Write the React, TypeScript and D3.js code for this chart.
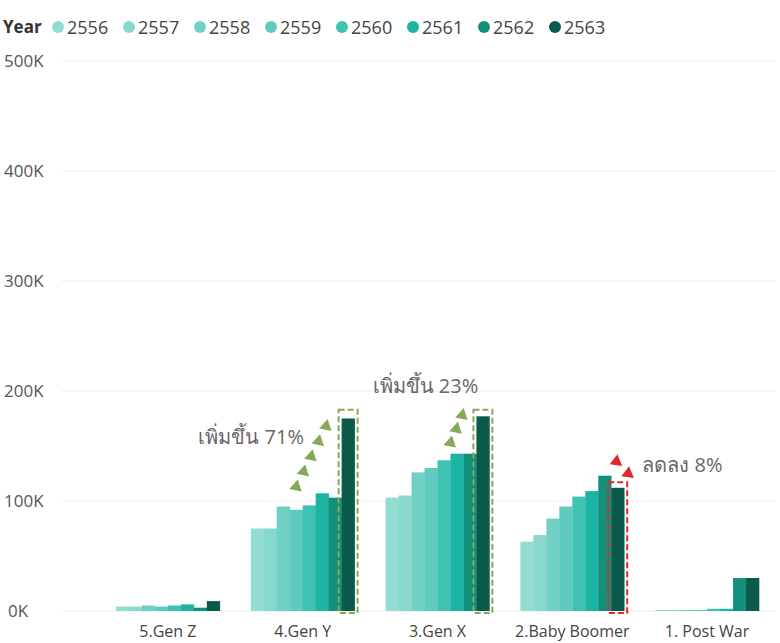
import React from 'react';
import * as d3 from 'd3';

// Generations (x categories) and years (series)
const categories = ['5.Gen Z', '4.Gen Y', '3.Gen X', '2.Baby Boomer', '1. Post War'];
const years = ['2556', '2557', '2558', '2559', '2560', '2561', '2562', '2563'];
const yearColors = ['#93dcd2', '#88d8cd', '#70d0c4', '#5fcbbe', '#3fc2b2', '#1cb4a2', '#13907c', '#0b5a4b'];

// values per generation, one per year (thousands)
const genZ = [4, 4, 5, 4, 5, 6, 3, 9];
const genY = [75, 75, 95, 92, 96, 107, 103, 175];
const genX = [103, 105, 126, 130, 137, 143, 143, 177];
const boomer = [63, 69, 84, 95, 104, 109, 123, 112];
const postWar = [1, 1, 1, 1, 2, 2, 30, 30];
const seriesByCat = [genZ, genY, genX, boomer, postWar];

const yTicks = [0, 100, 200, 300, 400, 500];

// annotations: category, text, text position (bar index, value), arrows from/to (bar index, value)
const notes = [
  { cat: '4.Gen Y', text: 'เพิ่มขึ้น 71%', tx: 4.1, tv: 152, anchor: 'end', color: '#86a858',
    from: [3.5, 113], to: [5.8, 168], n: 5, box: 183, rot: 12 },
  { cat: '3.Gen X', text: 'เพิ่มขึ้น 23%', tx: -1, tv: 198, anchor: 'start', color: '#86a858',
    from: [5.0, 153], to: [5.9, 178], n: 3, box: 183, rot: 12 },
  { cat: '2.Baby Boomer', text: 'ลดลง 8%', tx: 9.4, tv: 126, anchor: 'start', color: '#e0282c',
    from: [7.4, 136], to: [8.3, 125], n: 2, box: 117, rot: 8 },
];

const W = 780;
const H = 643;

export default function App() {
  const x = d3.scaleBand<string>().domain(categories).range([100.5, 774.5]).paddingInner(0.23).paddingOuter(0.115);
  const xi = d3.scaleBand<string>().domain(years).range([0, x.bandwidth()]).padding(0);
  const y = d3.scaleLinear().domain([0, 500]).range([611, 61]);
  const bw = xi.bandwidth();
  const font = '"Open Sans", "Noto Sans", sans-serif';
  const tri = d3.symbol().type(d3.symbolTriangle).size(70)() as string;

  const barX = (cat: string, idx: number) => (x(cat) as number) + idx * bw;

  return (
    <svg width={W} height={H} style={{ position: 'absolute', left: 0, top: 0, background: '#fff' }} fontFamily={font}>
      {/* legend */}
      <text x={3} y={33} fontSize={17} fontWeight={700} fill="#333">Year</text>
      {years.map((yr, i) => (
        <g key={yr} transform={`translate(${58 + i * 71},27)`}>
          <circle r={6} fill={yearColors[i]} />
          <text x={9} y={6.5} fontSize={18} fill="#444">{yr}</text>
        </g>
      ))}

      {/* grid + y labels */}
      {yTicks.map(t => (
        <g key={t}>
          <line x1={62} x2={776} y1={y(t)} y2={y(t)} stroke="#ececec" strokeWidth={1} />
          <text x={t === 0 ? 8 : 4} y={y(t) + 6} fontSize={17} fill="#555">{t}K</text>
        </g>
      ))}

      {/* bars */}
      {categories.map((cat, ci) => (
        <g key={cat} transform={`translate(${x(cat)},0)`}>
          {seriesByCat[ci].map((v, i) => (
            <rect key={i} x={xi(years[i])} y={y(v)} width={bw + 0.3} height={y(0) - y(v)} fill={yearColors[i]} />
          ))}
          <text x={x.bandwidth() / 2} y={637} textAnchor="middle" fontSize={16} fill="#444">{cat}</text>
        </g>
      ))}

      {/* annotations */}
      {notes.map(n => {
        const steps = d3.range(n.n).map(k => (n.n === 1 ? 0 : k / (n.n - 1)));
        const bx = barX(n.cat, 7);
        return (
          <g key={n.cat}>
            <rect x={bx - 3} y={y(n.box)} width={bw + 6} height={y(0) - y(n.box) + 2}
              fill="none" stroke={n.color} strokeWidth={2} strokeDasharray="6 3" />
            {steps.map((s, k) => {
              const px = barX(n.cat, n.from[0] + (n.to[0] - n.from[0]) * s);
              const py = y(n.from[1] + (n.to[1] - n.from[1]) * s);
              return <path key={k} d={tri} transform={`translate(${px},${py}) rotate(${n.rot})`} fill={n.color} />;
            })}
            <text x={barX(n.cat, n.tx)} y={y(n.tv)} textAnchor={n.anchor as any} fontSize={20} fill="#666">{n.text}</text>
          </g>
        );
      })}
    </svg>
  );
}
